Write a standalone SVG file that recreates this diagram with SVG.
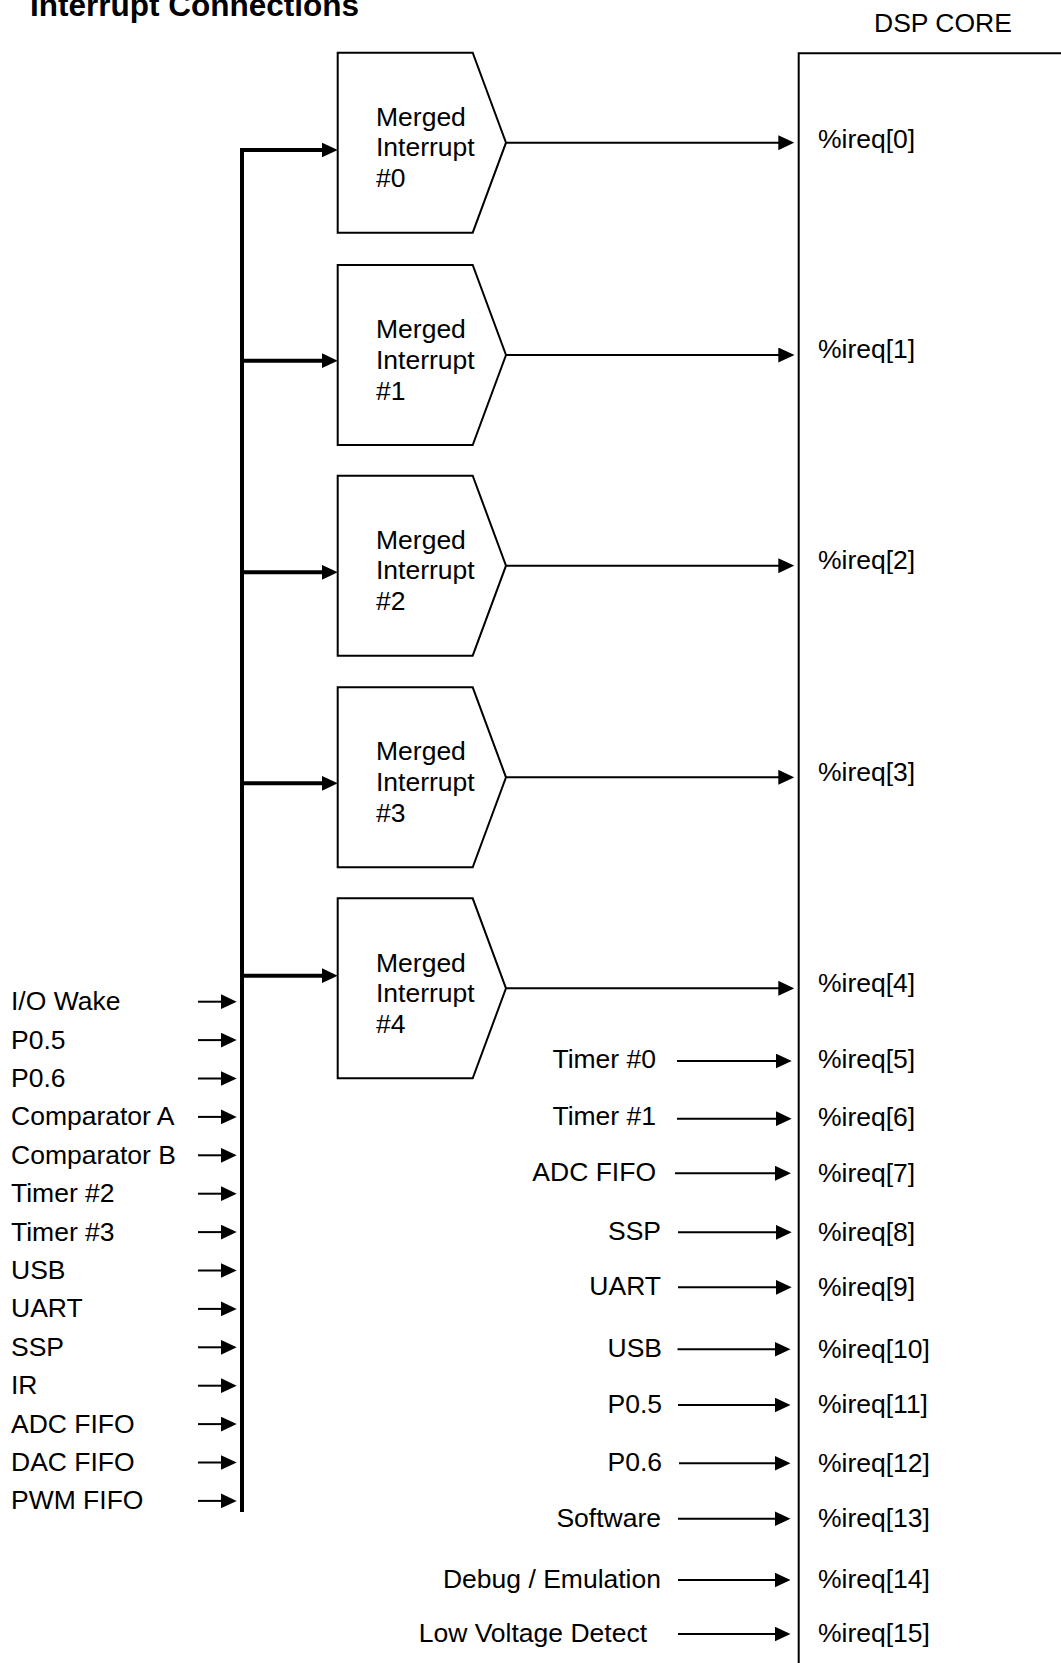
<svg xmlns="http://www.w3.org/2000/svg" width="1061" height="1663" viewBox="0 0 1061 1663">
<style>
.t{font-family:"Liberation Sans",Arial,sans-serif;font-size:26.5px;fill:#000}
.title{font-family:"Liberation Sans",Arial,sans-serif;font-size:31.5px;font-weight:bold;fill:#000}
.e{text-anchor:end}
.pent{fill:#fff;stroke:#000;stroke-width:2}
.thin{fill:none;stroke:#000;stroke-width:2;marker-end:url(#ah)}
.small{fill:none;stroke:#000;stroke-width:2;marker-end:url(#ah)}
.thick{fill:none;stroke:#000;stroke-width:4;marker-end:url(#ah)}
.bus{fill:none;stroke:#000;stroke-width:4}
.box{fill:none;stroke:#000;stroke-width:2}
</style>
<defs>
<marker id="ah" viewBox="0 0 16 15" refX="2" refY="7.5" markerWidth="16" markerHeight="15" markerUnits="userSpaceOnUse" orient="auto">
<path d="M0,0 L16,7.5 L0,15 z" fill="#000"/>
</marker>
</defs>
<rect width="1061" height="1663" fill="#fff"/>
<text class="title" x="30" y="16">Interrupt Connections</text>
<g id="dsp-core">
<path class="box" d="M1070 53.3 H798.7 V1670"/>
<text class="t" x="874" y="31.7">DSP CORE</text>
<text class="t" x="818" y="147.5">%ireq[0]</text>
<text class="t" x="818" y="358">%ireq[1]</text>
<text class="t" x="818" y="569">%ireq[2]</text>
<text class="t" x="818" y="781">%ireq[3]</text>
<text class="t" x="818" y="992">%ireq[4]</text>
<text class="t" x="818" y="1068.3">%ireq[5]</text>
<text class="t" x="818" y="1126">%ireq[6]</text>
<text class="t" x="818" y="1181.6">%ireq[7]</text>
<text class="t" x="818" y="1240.6">%ireq[8]</text>
<text class="t" x="818" y="1295.6">%ireq[9]</text>
<text class="t" x="818" y="1357.6">%ireq[10]</text>
<text class="t" x="818" y="1413.3">%ireq[11]</text>
<text class="t" x="818" y="1471.6">%ireq[12]</text>
<text class="t" x="818" y="1527">%ireq[13]</text>
<text class="t" x="818" y="1588.3">%ireq[14]</text>
<text class="t" x="818" y="1642.3">%ireq[15]</text>
</g>
<g id="merged-0">
<path class="pent" d="M337.7 52.7 H472.7 L506 142.7 L472.7 232.7 H337.7 Z"/>
<text class="t" x="376" y="125.7">Merged</text>
<text class="t" x="376" y="156.4">Interrupt</text>
<text class="t" x="376" y="187.4">#0</text>
</g>
<g id="merged-1">
<path class="pent" d="M337.7 265 H472.7 L506 355 L472.7 445 H337.7 Z"/>
<text class="t" x="376" y="338">Merged</text>
<text class="t" x="376" y="368.7">Interrupt</text>
<text class="t" x="376" y="399.7">#1</text>
</g>
<g id="merged-2">
<path class="pent" d="M337.7 475.7 H472.7 L506 565.7 L472.7 655.7 H337.7 Z"/>
<text class="t" x="376" y="548.7">Merged</text>
<text class="t" x="376" y="579.4">Interrupt</text>
<text class="t" x="376" y="610.4">#2</text>
</g>
<g id="merged-3">
<path class="pent" d="M337.7 687.3 H472.7 L506 777.3 L472.7 867.3 H337.7 Z"/>
<text class="t" x="376" y="760.3">Merged</text>
<text class="t" x="376" y="791">Interrupt</text>
<text class="t" x="376" y="822">#3</text>
</g>
<g id="merged-4">
<path class="pent" d="M337.7 898.3 H472.7 L506 988.3 L472.7 1078.3 H337.7 Z"/>
<text class="t" x="376" y="971.7">Merged</text>
<text class="t" x="376" y="1002">Interrupt</text>
<text class="t" x="376" y="1033">#4</text>
</g>
<g id="left-sources">
<text class="t" x="11" y="1010.2">I/O Wake</text>
<text class="t" x="11" y="1048.6">P0.5</text>
<text class="t" x="11" y="1087">P0.6</text>
<text class="t" x="11" y="1125.4">Comparator A</text>
<text class="t" x="11" y="1163.8">Comparator B</text>
<text class="t" x="11" y="1202.2">Timer #2</text>
<text class="t" x="11" y="1240.6">Timer #3</text>
<text class="t" x="11" y="1279">USB</text>
<text class="t" x="11" y="1317.4">UART</text>
<text class="t" x="11" y="1355.8">SSP</text>
<text class="t" x="11" y="1394.2">IR</text>
<text class="t" x="11" y="1432.6">ADC FIFO</text>
<text class="t" x="11" y="1471">DAC FIFO</text>
<text class="t" x="11" y="1509.4">PWM FIFO</text>
</g>
<g id="right-sources">
<text class="t e" x="656" y="1067.5">Timer #0</text>
<text class="t e" x="656" y="1125.2">Timer #1</text>
<text class="t e" x="656" y="1181.3">ADC FIFO</text>
<text class="t e" x="661" y="1240.3">SSP</text>
<text class="t e" x="661" y="1295.3">UART</text>
<text class="t e" x="662" y="1357.3">USB</text>
<text class="t e" x="662" y="1413">P0.5</text>
<text class="t e" x="662" y="1471.3">P0.6</text>
<text class="t e" x="661" y="1527">Software</text>
<text class="t e" x="661" y="1588.3">Debug / Emulation</text>
<text class="t e" x="647" y="1642.3">Low Voltage Detect</text>
</g>
<g id="connectors">
<path class="bus" d="M242 148 V1512"/>
<path class="thick" d="M240 150 H323.7"/>
<path class="thick" d="M240 360.7 H323.7"/>
<path class="thick" d="M240 572.3 H323.7"/>
<path class="thick" d="M240 783.3 H323.7"/>
<path class="thick" d="M240 975.7 H323.7"/>
<path class="thin" d="M506 142.7 H780.3"/>
<path class="thin" d="M506 355 H780.3"/>
<path class="thin" d="M506 565.7 H780.3"/>
<path class="thin" d="M506 777.3 H780.3"/>
<path class="thin" d="M506 988.3 H780.3"/>
<path class="small" d="M198 1001.7 H222.7"/>
<path class="small" d="M198 1040.1 H222.7"/>
<path class="small" d="M198 1078.5 H222.7"/>
<path class="small" d="M198 1116.9 H222.7"/>
<path class="small" d="M198 1155.3 H222.7"/>
<path class="small" d="M198 1193.7 H222.7"/>
<path class="small" d="M198 1232.1 H222.7"/>
<path class="small" d="M198 1270.5 H222.7"/>
<path class="small" d="M198 1308.9 H222.7"/>
<path class="small" d="M198 1347.3 H222.7"/>
<path class="small" d="M198 1385.7 H222.7"/>
<path class="small" d="M198 1424.1 H222.7"/>
<path class="small" d="M198 1462.5 H222.7"/>
<path class="small" d="M198 1500.9 H222.7"/>
<path class="thin" d="M677 1061 H777.7"/>
<path class="thin" d="M677 1118.7 H777.7"/>
<path class="thin" d="M675 1173.3 H777"/>
<path class="thin" d="M678 1232.3 H777.7"/>
<path class="thin" d="M678 1287.3 H777.7"/>
<path class="thin" d="M677.5 1349.3 H776.5"/>
<path class="thin" d="M678 1405 H776.5"/>
<path class="thin" d="M679 1463.3 H776.5"/>
<path class="thin" d="M678 1518.7 H776.5"/>
<path class="thin" d="M678 1580 H776.5"/>
<path class="thin" d="M678 1634 H776.5"/>
</g>
</svg>
